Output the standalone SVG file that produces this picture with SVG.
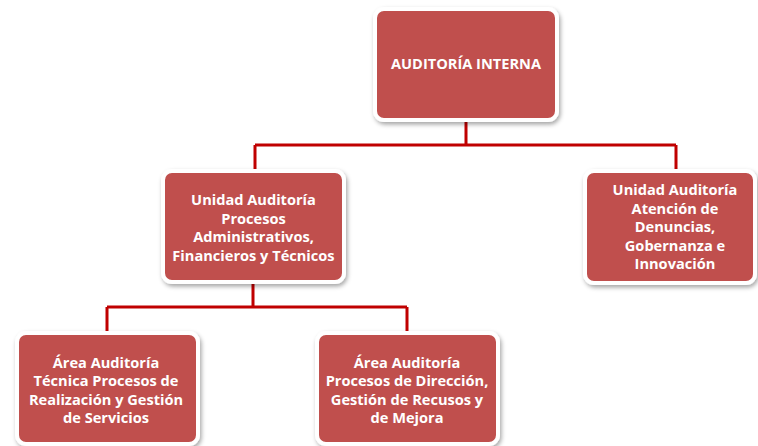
<svg xmlns="http://www.w3.org/2000/svg" width="758" height="446" viewBox="0 0 758 446">
<defs>
<filter id="sh" x="-10%" y="-10%" width="125%" height="130%">
<feDropShadow dx="1.5" dy="2.5" stdDeviation="2" flood-color="#000" flood-opacity="0.35"/>
</filter>
<style>
.box{fill:#C0504D;stroke:#fff;stroke-width:4;filter:url(#sh)}
.t{font-family:"Open Sans","Liberation Sans",sans-serif;font-weight:bold;font-size:14.6px;fill:#fff;text-anchor:middle;dominant-baseline:central}
.c{fill:none;stroke:#C00000;stroke-width:3}
</style>
</defs>
<rect width="758" height="446" fill="#fff"/>
<g id="connectors">
<path class="c" d="M466,121 V145 M255,145 H676 M255,145 V171 M676,145 V171"/>
<path class="c" d="M253,283 V307 M107,307 H407 M107,307 V333 M407,307 V333"/>
</g>
<g id="n-auditoria-interna">
<rect class="box" x="375" y="9" width="182" height="111" rx="9"/>
<text class="t" x="466" y="63">AUDITORÍA INTERNA</text>
</g>
<g id="n-unidad-procesos">
<rect class="box" x="163" y="171" width="181" height="111" rx="9"/>
<text class="t" x="253.5" y="199">Unidad Auditoría</text>
<text class="t" x="253.5" y="217.5">Procesos</text>
<text class="t" x="253.5" y="236">Administrativos,</text>
<text class="t" x="253.5" y="254.5">Financieros y Técnicos</text>
</g>
<g id="n-unidad-denuncias">
<rect class="box" x="585" y="171" width="170" height="112" rx="9"/>
<text class="t" x="675" y="189">Unidad Auditoría</text>
<text class="t" x="675" y="207.5">Atención de</text>
<text class="t" x="675" y="226">Denuncias,</text>
<text class="t" x="675" y="244.5">Gobernanza e</text>
<text class="t" x="675" y="263">Innovación</text>
</g>
<g id="n-area-tecnica">
<rect class="box" x="17" y="333" width="181" height="111" rx="9"/>
<text class="t" x="106" y="361.7">Área Auditoría</text>
<text class="t" x="106" y="380.2">Técnica Procesos de</text>
<text class="t" x="106" y="398.7">Realización y Gestión</text>
<text class="t" x="106" y="417.2">de Servicios</text>
</g>
<g id="n-area-direccion">
<rect class="box" x="317" y="333" width="181" height="111" rx="9"/>
<text class="t" x="407" y="361.7">Área Auditoría</text>
<text class="t" x="407" y="380.2">Procesos de Dirección,</text>
<text class="t" x="407" y="398.7">Gestión de Recusos y</text>
<text class="t" x="407" y="417.2">de Mejora</text>
</g>
</svg>
